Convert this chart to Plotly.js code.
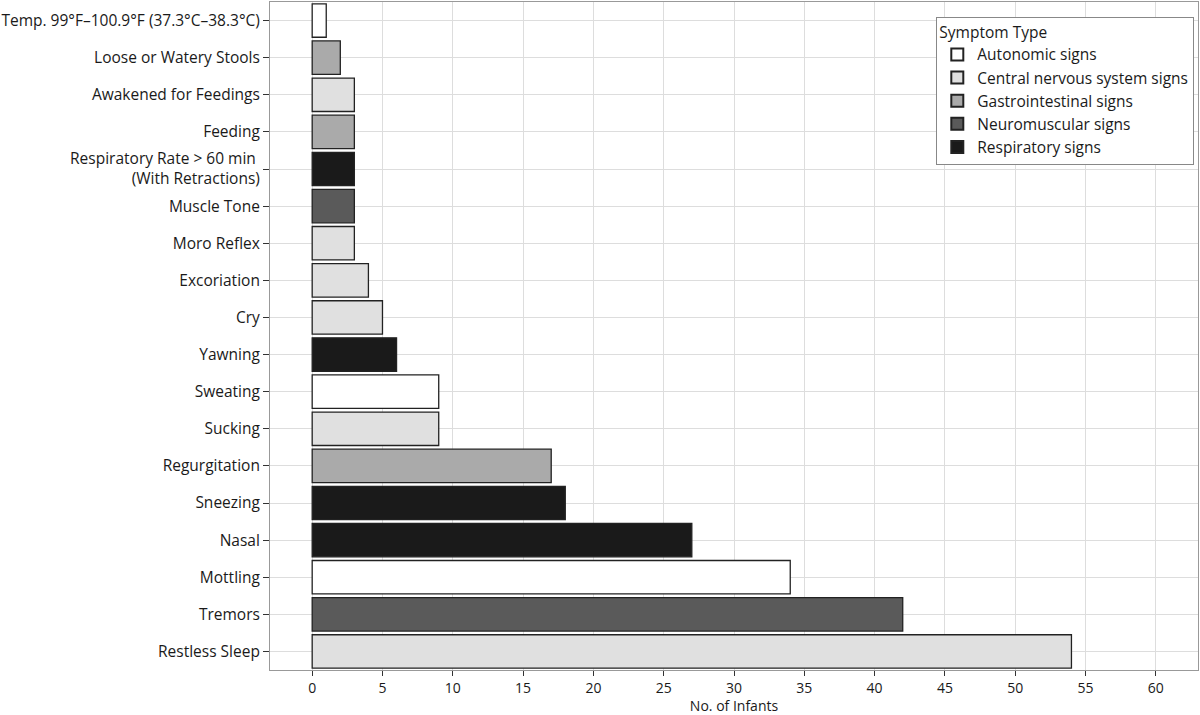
<!DOCTYPE html>
<html>
<head>
<meta charset="utf-8">
<script src="https://cdn.plot.ly/plotly-3.0.1.min.js"></script>
<style>html,body{margin:0;padding:0;background:#fff;}#chart{width:1200px;height:715px;}</style>
</head>
<body>
<div id="chart"></div>
<script>
// Top-to-bottom order
const symptoms = [
  "Temp. 99°F–100.9°F (37.3°C–38.3°C)",
  "Loose or Watery Stools",
  "Awakened for Feedings",
  "Feeding",
  "Respiratory Rate > 60 min <br>(With Retractions)",
  "Muscle Tone",
  "Moro Reflex",
  "Excoriation",
  "Cry",
  "Yawning",
  "Sweating",
  "Sucking",
  "Regurgitation",
  "Sneezing",
  "Nasal",
  "Mottling",
  "Tremors",
  "Restless Sleep"
];
const infants = [1, 2, 3, 3, 3, 3, 3, 4, 5, 6, 9, 9, 17, 18, 27, 34, 42, 54];
const symptomTypes = [
  "Autonomic signs",
  "Gastrointestinal signs",
  "Central nervous system signs",
  "Gastrointestinal signs",
  "Respiratory signs",
  "Neuromuscular signs",
  "Central nervous system signs",
  "Central nervous system signs",
  "Central nervous system signs",
  "Respiratory signs",
  "Autonomic signs",
  "Central nervous system signs",
  "Gastrointestinal signs",
  "Respiratory signs",
  "Respiratory signs",
  "Autonomic signs",
  "Neuromuscular signs",
  "Central nervous system signs"
];
const typeOrder = ["Autonomic signs","Central nervous system signs","Gastrointestinal signs","Neuromuscular signs","Respiratory signs"];
const typeColors = ["#ffffff","#e0e0e0","#aaaaaa","#5a5a5a","#1a1a1a"];
const xTicks = [0,5,10,15,20,25,30,35,40,45,50,55,60];

const font = "'Open Sans', 'Noto Sans', sans-serif";

const traces = typeOrder.map((t, i) => {
  const ys = [], xs = [];
  symptoms.forEach((s, j) => { if (symptomTypes[j] === t) { ys.push(s); xs.push(infants[j]); } });
  return {
    type: 'bar', orientation: 'h', name: t, x: xs, y: ys, width: 0.9,
    marker: {color: typeColors[i], line: {color: '#222222', width: 1.3}},
    hoverinfo: 'x+y'
  };
});

const layout = {
  width: 1200, height: 715,
  margin: {l: 270, r: 2, t: 2, b: 45},
  paper_bgcolor: '#fff', plot_bgcolor: '#fff',
  barmode: 'overlay',
  font: {family: font, size: 15, color: '#1a1a1a'},
  xaxis: {
    range: [-3, 63], tickvals: xTicks, ticktext: xTicks.map(String),
    showgrid: true, gridcolor: '#dddddd', gridwidth: 1, zeroline: false,
    showline: true, linecolor: '#999999', linewidth: 1, mirror: true,
    ticks: 'outside', ticklen: 5, tickcolor: '#333', tickwidth: 1,
    tickfont: {family: font, size: 14, color: '#1a1a1a'},
    title: {text: 'No. of Infants', font: {family: font, size: 14, color: '#1a1a1a'}, standoff: 0}
  },
  yaxis: {
    type: 'category', categoryorder: 'array', categoryarray: symptoms,
    autorange: 'reversed', range: [17.5, -0.5],
    showgrid: true, gridcolor: '#dddddd', gridwidth: 1, zeroline: false,
    showline: true, linecolor: '#999999', linewidth: 1, mirror: true,
    ticks: 'outside', ticklen: 6, tickcolor: '#333', tickwidth: 1,
    tickfont: {family: font, size: 15.5, color: '#1a1a1a'}
  },
  legend: {
    x: 0.718, y: 0.978, xanchor: 'left', yanchor: 'top',
    bgcolor: '#ffffff', bordercolor: '#888888', borderwidth: 1,
    title: {text: 'Symptom Type', font: {family: font, size: 15.5, color: '#1a1a1a'}},
    font: {family: font, size: 15.5, color: '#1a1a1a'},
    traceorder: 'normal', tracegroupgap: 0, itemsizing: 'constant', itemwidth: 30
  },
  showlegend: true
};

Plotly.newPlot('chart', traces, layout, {displayModeBar: false, staticPlot: true});
</script>
</body>
</html>
